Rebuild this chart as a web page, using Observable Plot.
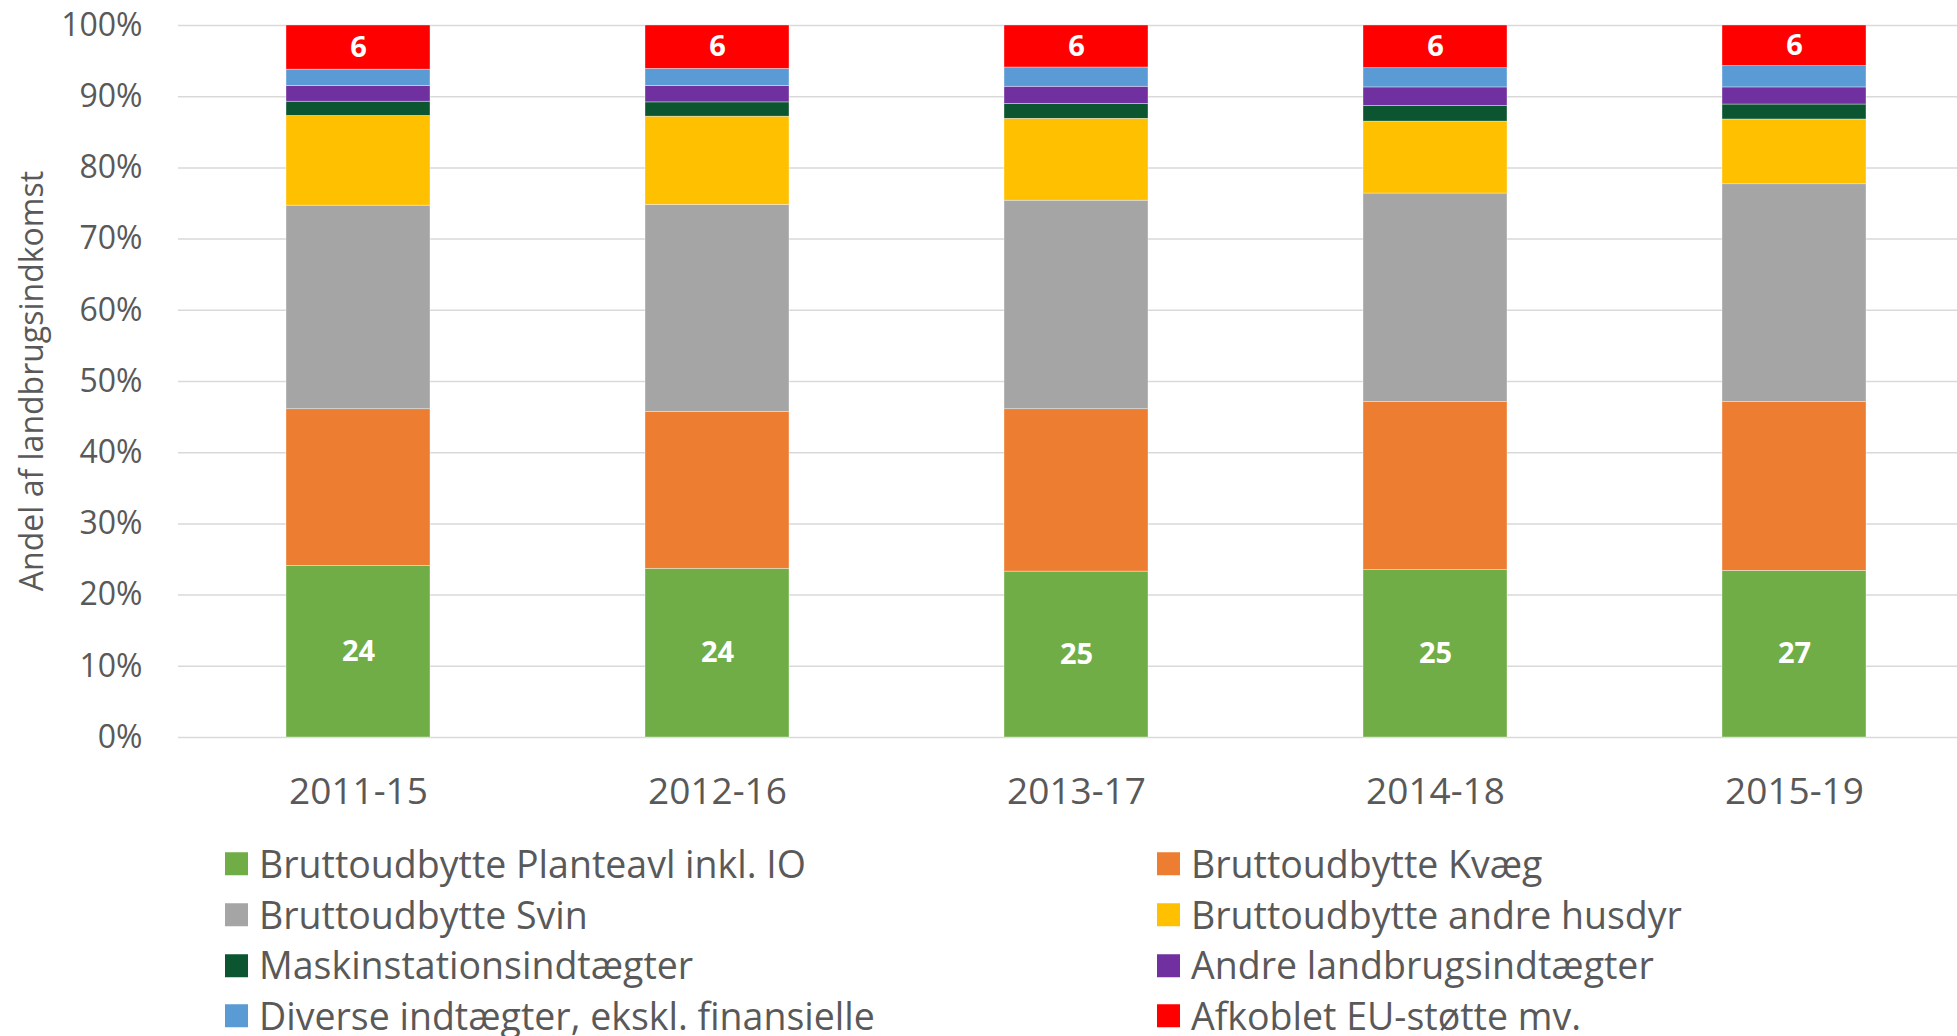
<!DOCTYPE html>
<html><head><meta charset="utf-8">
<script src="https://cdn.jsdelivr.net/npm/d3@7"></script>
<script src="https://cdn.jsdelivr.net/npm/@observablehq/plot@0.6"></script>
<style>
body{margin:0;background:#fff;font-family:"Open Sans",sans-serif;}
#wrap{position:relative;width:1957px;height:1036px;overflow:hidden;background:#fff;}
#wrap svg{position:absolute;left:0;top:0;}
.item{position:absolute;display:flex;align-items:center;white-space:nowrap;font-size:37.5px;color:#595959;transform:translateY(-50%);line-height:1;}
.sw{width:23px;height:23px;margin-right:11px;flex:none;}
#ytitle{position:absolute;left:31px;top:381px;transform:translate(-50%,-50%) rotate(-90deg);font-size:32px;color:#595959;white-space:nowrap;line-height:1;}
</style></head><body><div id="wrap"></div>
<script>
const periods = ["2011-15","2012-16","2013-17","2014-18","2015-19"];
const series = [
  "Bruttoudbytte Planteavl inkl. IO",
  "Bruttoudbytte Kvæg",
  "Bruttoudbytte Svin",
  "Bruttoudbytte andre husdyr",
  "Maskinstationsindtægter",
  "Andre landbrugsindtægter",
  "Diverse indtægter, ekskl. finansielle",
  "Afkoblet EU-støtte mv."
];
const colors = ["#70AD47","#ED7D31","#A5A5A5","#FFC000","#0B5530","#7030A0","#5B9BD5","#FF0000"];
const planteavl = [24.1, 23.7, 23.3, 23.5, 23.4];
const kvaeg     = [22.0, 22.0, 22.8, 23.6, 23.7];
const svin      = [28.6, 29.1, 29.3, 29.3, 30.6];
const andreHusdyr = [12.6, 12.4, 11.5, 10.1, 9.1];
const maskinstation = [2.0, 2.0, 2.1, 2.2, 2.1];
const andreLandbrug = [2.2, 2.3, 2.4, 2.6, 2.4];
const diverse   = [2.3, 2.4, 2.7, 2.7, 3.0];
const euStotte  = [6.2, 6.1, 5.9, 6.0, 5.7];
const greenLabels = [24, 24, 25, 25, 27];
const redLabels = [6, 6, 6, 6, 6];
const yTicks = [0,10,20,30,40,50,60,70,80,90,100];

const values = [planteavl, kvaeg, svin, andreHusdyr, maskinstation, andreLandbrug, diverse, euStotte];
const rows = [];
series.forEach((s, si) => {
  periods.forEach((p, pi) => {
    let label = "";
    if (si === 0) label = String(greenLabels[pi]);
    if (si === series.length - 1) label = String(redLabels[pi]);
    rows.push({period: p, series: s, value: values[si][pi], label});
  });
});

const chart = Plot.plot({
  width: 1957, height: 830,
  marginTop: 25, marginBottom: 93, marginLeft: 178, marginRight: 0,
  style: {fontFamily: "'Open Sans', sans-serif", background: "white", color: "#595959"},
  x: {domain: periods, range: [178.5, 1973.5], paddingInner: 0.6, paddingOuter: 0.3, label: null},
  y: {domain: [0, 100], label: null},
  color: {domain: series, range: colors},
  marks: [
    Plot.ruleY(yTicks, {stroke: "#d9d9d9", strokeWidth: 1.5}),
    Plot.barY(rows, Plot.stackY({order: series, x: "period", y: "value", z: "series", fill: "series", stroke: "#ffffff", strokeWidth: 0.6, strokeOpacity: 0.6})),
    Plot.text(rows, Plot.stackY({order: series, x: "period", y: "value", z: "series", text: "label", fill: "white", fontWeight: "bold", fontSize: 29})),
    Plot.axisY({ticks: yTicks, tickFormat: d => d + "%", tickSize: 0, tickPadding: 36, fontSize: 32, label: null}),
    Plot.axisX({tickSize: 0, tickPadding: 40, fontSize: 37, label: null})
  ]
});

const wrap = document.getElementById("wrap");
wrap.appendChild(chart);

const yt = document.createElement("div");
yt.id = "ytitle";
yt.textContent = "Andel af landbrugsindkomst";
wrap.appendChild(yt);

const colX = [225, 1157];
series.forEach((s, i) => {
  const col = i % 2, row = Math.floor(i / 2);
  const it = document.createElement("div");
  it.className = "item";
  it.style.left = colX[col] + "px";
  it.style.top = (864 + row * 50.7) + "px";
  const sw = document.createElement("span");
  sw.className = "sw";
  sw.style.background = colors[i];
  const tx = document.createElement("span");
  tx.textContent = s;
  it.appendChild(sw); it.appendChild(tx);
  wrap.appendChild(it);
});
</script>
</body></html>
